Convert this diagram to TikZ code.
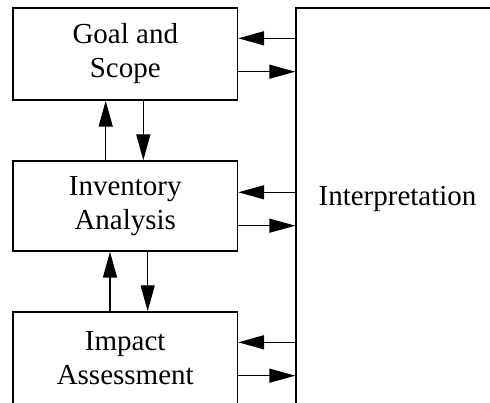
\documentclass[tikz,border=0pt]{standalone}
\usepackage{fontspec}
\setmainfont{Liberation Serif}
\usetikzlibrary{arrows.meta}

\begin{document}
\begin{tikzpicture}[x=1pt,y=-1pt,line width=1.4pt,
        stage/.style={draw,minimum width=224.5pt,inner sep=0pt,align=center,
            font=\fontsize{29}{34}\selectfont},
        arr/.style={-{Triangle[length=26pt,width=14pt]}}]
        \useasboundingbox (0,0) rectangle (490,403);
        \clip (0,0) rectangle (490,403);
        \node[stage,minimum height=92pt] (goal) at (125.25,54) {Goal and\\Scope};
        \node[stage,minimum height=90pt] (inv) at (125.25,206) {Inventory\\Analysis};
        \node[stage,minimum height=92pt] (imp) at (125.25,358) {Impact\\Assessment};
        \node[draw,minimum width=250pt,minimum height=450pt] (interp) at (421,233) {};
        \node[font=\fontsize{29}{34}\selectfont] (interptext) at (397.5,199) {Interpretation};
        \foreach \n/\a/\b in {goal/38.3/71.7,inv/192.3/225.7,imp/342.3/375.7} {
            \draw[arr] (interp.west |- 0,\a) -- (\n.east |- 0,\a);
            \draw[arr] (\n.east |- 0,\b) -- (interp.west |- 0,\b);
        }
        \draw[arr] (inv.north -| 105.7,0) -- (goal.south -| 105.7,0);
        \draw[arr] (goal.south -| 143.3,0) -- (inv.north -| 143.3,0);
        \draw[arr] (imp.north -| 110,0) -- (inv.south -| 110,0);
        \draw[arr] (inv.south -| 147.7,0) -- (imp.north -| 147.7,0);
\end{tikzpicture}
\end{document}
